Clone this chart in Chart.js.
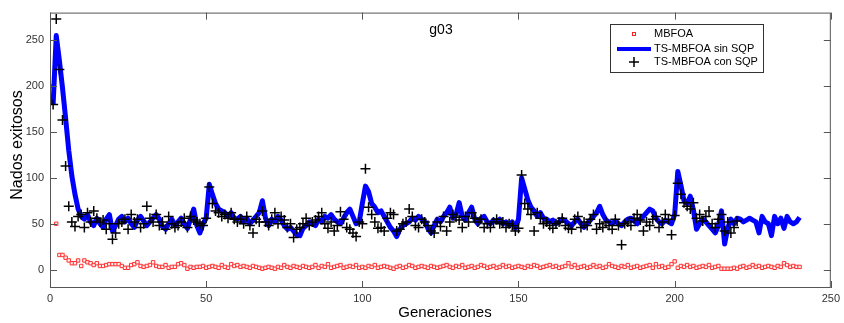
<!DOCTYPE html>
<html lang="es">
<head>
<meta charset="UTF-8">
<title>g03</title>
<script src="https://cdn.jsdelivr.net/npm/chart.js"></script>
<style>
  html, body { margin: 0; padding: 0; background: #fff; }
  #chart { display: block; }
</style>
</head>
<body>
<canvas id="chart" width="844" height="323"></canvas>
<script>
// series values, one per generation
const mbfoa = [
  200, 50, 16, 16, 13, 10, 7, 7, 10, 4,
  10, 8, 7, 5, 7, 4, 4, 5, 6, 6,
  6, 6, 4, 2, 2, 5, 6, 8, 4, 3,
  4, 5, 8, 4, 3, 3, 5, 2, 3, 3,
  6, 7, 5, 1, 3, 2, 3, 3, 4, 2,
  3, 4, 3, 2, 5, 3, 2, 6, 4, 5,
  3, 4, 3, 2, 4, 3, 2, 1, 2, 3,
  2, 1, 3, 2, 5, 3, 2, 4, 3, 2,
  4, 3, 2, 3, 5, 2, 4, 3, 6, 2,
  3, 4, 5, 2, 3, 4, 3, 5, 2, 3,
  2, 4, 3, 5, 2, 3, 4, 3, 2, 1,
  3, 4, 2, 3, 5, 4, 2, 3, 4, 3,
  2, 4, 3, 2, 3, 4, 5, 3, 2, 4,
  3, 5, 2, 3, 4, 2, 3, 5, 4, 2,
  3, 4, 2, 3, 5, 3, 4, 2, 3, 4,
  3, 2, 4, 3, 5, 4, 2, 3, 4, 5,
  3, 4, 2, 3, 4, 7, 3, 5, 2, 3,
  4, 2, 3, 5, 3, 4, 2, 3, 6, 4,
  3, 2, 4, 3, 5, 2, 3, 4, 2, 3,
  4, 5, 2, 6, 3, 4, 2, 3, 6, 9,
  2, 4, 3, 5, 3, 4, 2, 3, 4, 3,
  5, 2, 3, 4, 1, 1, 1, 1, 2, 1,
  3, 4, 2, 3, 5, 3, 4, 2, 3, 4,
  3, 2, 4, 3, 7, 5, 3, 4, 3, 3
];

const sinSQP = [
  180, 255, 228, 198, 165, 130, 102, 82, 66, 58,
  55, 60, 52, 48, 56, 50, 46, 55, 60, 42,
  48, 55, 58, 52, 56, 50, 46, 54, 58, 53,
  48, 52, 56, 60, 55, 47, 44, 50, 55, 48,
  52, 56, 50, 45, 55, 66, 48, 40, 50, 56,
  93, 82, 72, 66, 64, 62, 58, 62, 56, 55,
  58, 52, 56, 50, 54, 58, 62, 75, 56, 48,
  55, 52, 58, 54, 48, 44, 46, 42, 38, 37,
  45, 48, 52, 50, 48, 55, 52, 58, 56, 60,
  55, 52, 50, 56, 62, 66, 58, 50, 52, 72,
  91, 85, 72, 68, 62, 64, 58, 52, 46, 42,
  36, 44, 48, 50, 52, 56, 54, 58, 55, 52,
  45, 40, 48, 55, 52, 58, 62, 68, 56, 60,
  73, 58, 54, 62, 68, 55, 50, 56, 58, 52,
  50, 54, 52, 55, 50, 52, 48, 52, 45, 55,
  100, 88, 76, 68, 64, 58, 62, 56, 55, 52,
  54, 50, 52, 55, 53, 50, 48, 52, 55, 50,
  46, 50, 54, 58, 62, 69, 60, 54, 52, 50,
  53, 50, 48, 52, 55, 56, 53, 50, 55, 58,
  62, 66, 64, 56, 52, 50, 54, 52, 50, 60,
  107, 92, 75, 72, 80, 65, 44, 50, 55, 52,
  48, 44, 40, 48, 64, 28, 45, 55, 50, 56,
  55, 52, 54, 56, 54, 52, 40, 58, 52, 50,
  37, 58, 50, 56, 45, 58, 52, 50, 52, 57
];

const conSQP = [
  180, 273, 218, 163, 113, 69, 52, 47, 58, 60,
  46, 62, 52, 64, 56, 52, 54, 44, 50, 33,
  40, 50, 52, 55, 44, 60, 52, 55, 46, 50,
  69, 56, 52, 60, 48, 52, 44, 58, 50, 46,
  48, 52, 56, 46, 58, 54, 52, 50, 48, 56,
  90, 72, 64, 62, 58, 60, 56, 62, 55, 52,
  55, 50, 58, 48, 40, 55, 52, 64, 52, 48,
  55, 62, 50, 58, 54, 46, 50, 35, 44, 46,
  50, 56, 48, 52, 54, 58, 62, 50, 45, 52,
  42, 48, 63, 55, 46, 44, 40, 36, 52, 50,
  110, 68, 60, 52, 45, 46, 42, 56, 62, 60,
  42, 44, 50, 52, 66, 58, 48, 46, 55, 52,
  48, 42, 40, 52, 47, 58, 42, 52, 60, 57,
  54, 46, 58, 52, 62, 56, 52, 55, 46, 50,
  46, 52, 55, 50, 52, 46, 50, 48, 42, 45,
  103, 72, 66, 60, 42, 62, 56, 50, 52, 48,
  45, 50, 52, 56, 48, 45, 44, 55, 58, 46,
  52, 48, 55, 60, 44, 50, 46, 52, 48, 44,
  55, 48, 27, 50, 52, 48, 56, 60, 54, 42,
  52, 48, 55, 58, 46, 52, 60, 55, 38, 59,
  94, 82, 73, 69, 66, 73, 56, 60, 53, 58,
  64, 50, 46, 55, 60, 42, 52, 40, 46, 53
];

const xTicks = [0, 50, 100, 150, 200, 250];
const yTicks = [0, 50, 100, 150, 200, 250];
const labels = ['MBFOA', 'TS-MBFOA sin SQP', 'TS-MBFOA con SQP'];

const toXY = arr => arr.map((v, i) => ({ x: i + 1, y: v }));
const FONT = '"Liberation Sans", Arial, sans-serif';

// matlab style box, inward ticks, titles and legend
const matlabBox = {
  id: 'matlabBox',
  afterDatasetsDraw(chart) {
    const { ctx, chartArea: a, scales } = chart;
    const xs = scales.x, ys = scales.y;
    ctx.save();
    ctx.strokeStyle = '#555';
    ctx.lineWidth = 1;
    ctx.strokeRect(a.left + 0.5, a.top + 0.5, a.right - a.left - 1, a.bottom - a.top - 1);
    ctx.beginPath();
    xTicks.forEach(t => {
      const px = Math.round(xs.getPixelForValue(t)) + 0.5;
      ctx.moveTo(px, a.bottom); ctx.lineTo(px, a.bottom - 7);
      ctx.moveTo(px, a.top); ctx.lineTo(px, a.top + 7);
    });
    yTicks.forEach(t => {
      const py = Math.round(ys.getPixelForValue(t)) + 0.5;
      ctx.moveTo(a.left, py); ctx.lineTo(a.left + 7, py);
      ctx.moveTo(a.right, py); ctx.lineTo(a.right - 7, py);
    });
    ctx.stroke();

    ctx.fillStyle = '#000';
    ctx.textAlign = 'center';
    ctx.textBaseline = 'middle';
    // title inside the axes
    ctx.font = '14px ' + FONT;
    ctx.fillText('g03', 441, 30);
    // axis titles
    ctx.font = '15px ' + FONT;
    ctx.fillText('Generaciones', 445, 313);
    ctx.save();
    ctx.translate(18, 145);
    ctx.rotate(-Math.PI / 2);
    ctx.font = '16px ' + FONT;
    ctx.fillText('Nados exitosos', 0, 0);
    ctx.restore();

    // legend
    const bx = 610.5, by = 24.5, bw = 153, bh = 48;
    ctx.fillStyle = '#fff';
    ctx.fillRect(bx, by, bw, bh);
    ctx.strokeStyle = '#333';
    ctx.lineWidth = 1;
    ctx.strokeRect(bx, by, bw, bh);
    ctx.font = '11px ' + FONT;
    ctx.textAlign = 'left';
    ctx.fillStyle = '#000';
    const rows = [34, 49, 62];
    ctx.strokeStyle = '#ff2020';
    ctx.strokeRect(632.5, rows[0] - 1.5, 3, 3);
    ctx.strokeStyle = '#0000ff';
    ctx.lineWidth = 4;
    ctx.beginPath(); ctx.moveTo(617, rows[1]); ctx.lineTo(651, rows[1]); ctx.stroke();
    ctx.strokeStyle = '#000';
    ctx.lineWidth = 1.5;
    ctx.beginPath();
    ctx.moveTo(629, rows[2]); ctx.lineTo(639, rows[2]);
    ctx.moveTo(634, rows[2] - 5); ctx.lineTo(634, rows[2] + 5);
    ctx.stroke();
    labels.forEach((l, i) => ctx.fillText(l, 654, rows[i]));
    ctx.restore();
  }
};

new Chart(document.getElementById('chart'), {
  type: 'line',
  data: {
    datasets: [
      {
        label: labels[0],
        data: toXY(mbfoa),
        showLine: false,
        pointStyle: 'rect',
        pointRadius: 2.4,
        pointBorderWidth: 1,
        pointBorderColor: '#ff3030',
        pointBackgroundColor: '#fff0f0',
        order: 3
      },
      {
        label: labels[1],
        data: toXY(sinSQP),
        borderColor: '#0000ff',
        borderWidth: 5,
        pointRadius: 0,
        tension: 0,
        borderJoinStyle: 'round',
        fill: false,
        order: 2
      },
      {
        label: labels[2],
        data: toXY(conSQP),
        showLine: false,
        pointStyle: 'cross',
        pointRadius: 5,
        pointBorderWidth: 1.5,
        pointBorderColor: '#000',
        order: 1
      }
    ]
  },
  options: {
    responsive: false,
    animation: false,
    devicePixelRatio: 1,
    layout: { padding: { top: 10, right: 2, left: 0, bottom: 0 } },
    plugins: { legend: { display: false }, tooltip: { enabled: false } },
    scales: {
      x: {
        type: 'linear',
        min: 0, max: 250,
        afterBuildTicks: s => { s.ticks = xTicks.map(v => ({ value: v })); },
        afterFit: s => { s.height = 35; },
        grid: { display: false, drawTicks: false },
        border: { display: false },
        ticks: { color: '#333', font: { family: FONT, size: 11 }, padding: 4, maxRotation: 0 }
      },
      y: {
        min: -20, max: 280,
        afterBuildTicks: s => { s.ticks = yTicks.map(v => ({ value: v })); },
        afterFit: s => { s.width = 50; },
        grid: { display: false, drawTicks: false },
        border: { display: false },
        ticks: { color: '#333', font: { family: FONT, size: 11 }, padding: 6 }
      }
    }
  },
  plugins: [matlabBox]
});
</script>
</body>
</html>
